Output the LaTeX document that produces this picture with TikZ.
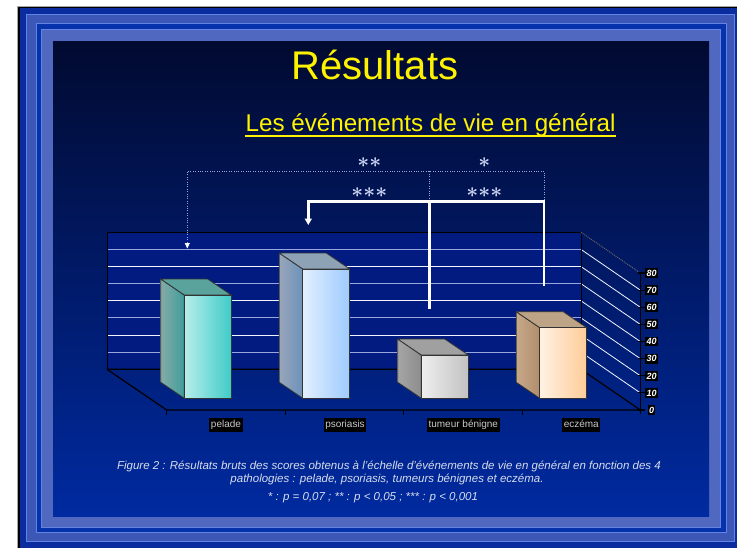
\documentclass[tikz,border=0pt]{standalone}
\usepackage{fontspec}
\setmainfont{Liberation Sans}
\usetikzlibrary{arrows.meta}
\definecolor{frameDark}{HTML}{0A2C9E}
\definecolor{frameDarkB}{HTML}{0632AC}
\definecolor{bandA}{HTML}{3C57B6}
\definecolor{bandB}{HTML}{5068C0}
\definecolor{bandEdge}{HTML}{6284E4}
\definecolor{bgTop}{HTML}{010A30}
\definecolor{bgMid}{HTML}{001C78}
\definecolor{bgBot}{HTML}{002AA0}
\definecolor{wallFill}{HTML}{011B80}
\definecolor{gridL}{HTML}{9AA6DE}
\definecolor{gridW}{HTML}{F2F4FF}
\definecolor{starCol}{HTML}{D0D8F6}
\definecolor{dotCol}{HTML}{9AA8D6}
\definecolor{capCol}{HTML}{D8DCEC}
\definecolor{catCol}{HTML}{CACACA}
\definecolor{peSL}{HTML}{86AAA8}\definecolor{peSR}{HTML}{3E9E9A}\definecolor{peT}{HTML}{5AA39C}\definecolor{peFL}{HTML}{B6EEEA}\definecolor{peFR}{HTML}{40CBC8}
\definecolor{psSL}{HTML}{9AA6B8}\definecolor{psSR}{HTML}{6A92BC}\definecolor{psT}{HTML}{8EA2B6}\definecolor{psFL}{HTML}{E2EFFF}\definecolor{psFR}{HTML}{9ECBFF}
\definecolor{tuSL}{HTML}{A6A6A6}\definecolor{tuSR}{HTML}{8C8C8C}\definecolor{tuT}{HTML}{A0A0A0}\definecolor{tuFL}{HTML}{EEEEEE}\definecolor{tuFR}{HTML}{C2C2C2}
\definecolor{ecSL}{HTML}{C6A88A}\definecolor{ecSR}{HTML}{B08E6C}\definecolor{ecT}{HTML}{BEA486}\definecolor{ecFL}{HTML}{FFF2E4}\definecolor{ecFR}{HTML}{FFCC98}
\tikzset{
  catlab/.style={fill=black, text=catCol, font=\fontsize{10}{12}\selectfont, inner xsep=1.5pt, inner ysep=2.2pt, text height=7.5pt, text depth=2.2pt},
  axlab/.style={fill=black, text=white, font=\bfseries\itshape\fontsize{9}{10}\selectfont, inner xsep=1.2pt, inner ysep=1.6pt, text height=6.6pt, text depth=0pt},
  stars/.style={text=starCol, font=\fontsize{21}{21}\selectfont\boldmath, inner sep=0pt},
  caption/.style={text=capCol, font=\itshape\fontsize{11.5}{13}\selectfont, inner sep=0pt, anchor=base},
  dotline/.style={dotCol, line width=0.8pt, dash pattern=on 1pt off 1.4pt},
  solidline/.style={white, line width=2.6pt},
  faceline/.style={draw=black!80, line width=0.8pt, line join=round}
}
\begin{document}
\begin{tikzpicture}[x=1pt,y=-1pt]
\useasboundingbox (0,0) rectangle (737,547);
\clip (0,0) rectangle (737,547);
\fill[white] (0,0) rectangle (737,547);
% slide frame
\filldraw[fill=black, draw=black!35] (17,6) rectangle (780,580);
\fill[frameDark] (20,8) rectangle (780,580);
\filldraw[fill=bandA, draw=bandEdge, line width=1pt] (26,14) rectangle (734,541);
\filldraw[fill=frameDarkB, draw=bandEdge, line width=1pt] (36,23) rectangle (726,532);
\filldraw[fill=bandB, draw=bandEdge, line width=1pt] (41,29) rectangle (720,527);
\shade[top color=bgTop, middle color=bgMid, bottom color=bgBot] (53,41) rectangle (709,516);
% titles
\node[anchor=base, inner sep=0pt, text=yellow, font=\fontsize{40}{40}\selectfont] (title) at (375,79.5) {Résultats};
\node[anchor=base west, inner sep=0pt, text=yellow, font=\fontsize{24.2}{26}\selectfont] (sub) at (245.4,131) {Les événements de vie en général};
\draw[yellow, line width=2pt] ([yshift=-5pt]sub.base west) -- ([yshift=-5pt]sub.base east);
% back wall
\fill[wallFill] (107,232.3) rectangle (581,369.3);
\foreach \k/\c in {1/gridL,2/gridW,3/gridL,4/gridW,5/gridL,6/gridW,7/gridL}{
  \pgfmathsetmacro{\yy}{369.3-\k*17.125}
  \draw[\c, line width=1pt] (107,\yy) -- (581,\yy);
  \draw[gridW, line width=0.8pt] (581,\yy) -- (640.3,\yy+40.7);
}
\draw[black, line width=1pt] (107,369.3) -- (107,232.3) -- (581,232.3) -- (581,369.3);
\draw[black!60, line width=1pt, densely dotted] (581,232.3) -- (640.3,273);
% floor
\draw[black, line width=1.2pt] (107,369.3) -- (581,369.3) -- (640.3,410);
\draw[black, line width=1.2pt] (107,369.3) -- (166.7,410) -- (640.3,410);
\foreach \x in {166.7,285.2,403.7,522.2}{\draw[black, line width=1.2pt] (\x,410) -- (\x,415);}
% vertical axis
\draw[black, line width=1.2pt] (640.3,273) -- (640.3,414);
\foreach \k in {0,...,8}{
  \pgfmathsetmacro{\yy}{410-\k*17.125}
  \draw[black, line width=1.2pt] (637.5,\yy) -- (645,\yy);
  \pgfmathtruncatemacro{\vv}{10*\k}
  \node[axlab] (ax\k) at (651.5,\yy) {\vv};
}
% bars
\foreach \i/\tp/\sl/\sr/\tc/\fl/\fr in {0/295/peSL/peSR/peT/peFL/peFR, 1/269/psSL/psSR/psT/psFL/psFR, 2/355/tuSL/tuSR/tuT/tuFL/tuFR, 3/327.7/ecSL/ecSR/ecT/ecFL/ecFR}{
  \pgfmathsetmacro{\xl}{184.3+\i*118.5}
  \pgfmathsetmacro{\xr}{\xl+47}
  \pgfmathsetmacro{\xb}{\xl-23.6}
  \pgfmathsetmacro{\xbr}{\xr-23.6}
  \pgfmathsetmacro{\tb}{\tp-16}
  \shade[left color=\sl, right color=\sr] (\xl,\tp) -- (\xb,\tb) -- (\xb,382.3) -- (\xl,398.3) -- cycle;
  \draw[faceline] (\xl,\tp) -- (\xb,\tb) -- (\xb,382.3) -- (\xl,398.3) -- cycle;
  \filldraw[fill=\tc, faceline] (\xl,\tp) -- (\xr,\tp) -- (\xbr,\tb) -- (\xb,\tb) -- cycle;
  \shade[left color=\fl, right color=\fr] (\xl,\tp) rectangle (\xr,398.3);
  \draw[faceline] (\xl,\tp) rectangle (\xr,398.3);
}
% category labels
\node[catlab] (c1) at (226,424.7) {pelade};
\node[catlab] (c2) at (345,424.7) {psoriasis};
\node[catlab] (c3) at (463.3,424.7) {tumeur bénigne};
\node[catlab] (c4) at (581.3,424.7) {eczéma};
% significance brackets
\coordinate (d1) at (187.3,248.5);
\coordinate (d2) at (187.3,171.3);
\coordinate (d3) at (544.3,171.3);
\coordinate (d4) at (544.3,200);
\coordinate (d5) at (429.3,171.3);
\coordinate (d6) at (429.3,200);
\draw[dotline, -{Triangle[width=5pt,length=5.5pt,color=white]}] (d4) -- (d3) -- (d2) -- (d1);
\draw[dotline] (d5) -- (d6);
\coordinate (s1) at (308.3,225);
\coordinate (s2) at (308.3,201.3);
\coordinate (s3) at (544,201.3);
\coordinate (s4) at (544,285.7);
\coordinate (s5) at (429.7,201.3);
\coordinate (s6) at (429.7,309.3);
\draw[solidline, -{Triangle[width=7pt,length=6.5pt]}] (s4) -- (s3) -- (s2) -- (s1);
\draw[solidline] (s5) -- (s6);
\node[stars] (st1) at (369.3,162.7) {${\ast}{\ast}$};
\node[stars] (st2) at (484.3,162.7) {${\ast}$};
\node[stars] (st3) at (369.3,192.7) {${\ast}{\ast}{\ast}$};
\node[stars] (st4) at (484.3,192.7) {${\ast}{\ast}{\ast}$};
% caption
\node[caption] (cap1) at (389,469) {Figure 2 : Résultats bruts des scores obtenus à l'échelle d'événements de vie en général en fonction des 4};
\node[caption] (cap2) at (387,482.5) {pathologies : pelade, psoriasis, tumeurs bénignes et eczéma.};
\node[caption] (cap3) at (373,500.5) {* : p = 0,07 ; ** : p < 0,05 ; *** : p < 0,001};
\end{tikzpicture}
\end{document}
